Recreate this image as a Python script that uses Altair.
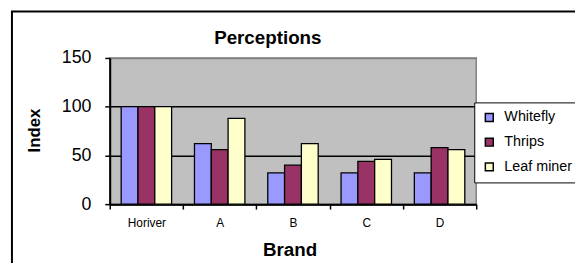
import altair as alt
import pandas as pd

chart_title = "Perceptions"
brands = ["Horiver", "A", "B", "C", "D"]
series = ["Whitefly", "Thrips", "Leaf miner"]
whitefly = [100, 62, 32, 32, 32]
thrips = [100, 56, 40, 44, 58]
leaf_miner = [100, 88, 62, 46, 56]
colors = ["#9999FF", "#993366", "#FFFFCC"]

rows = []
for s, vals in zip(series, [whitefly, thrips, leaf_miner]):
    for b, v in zip(brands, vals):
        rows.append({"Brand": b, "Series": s, "Index": v})
df = pd.DataFrame(rows)

FONT = "Liberation Sans"

bars = alt.Chart(df).mark_bar(stroke="black", strokeWidth=1.3).encode(
    x=alt.X("Brand:N", sort=brands,
            scale=alt.Scale(paddingInner=0, paddingOuter=0),
            axis=alt.Axis(title="Brand", labelAngle=0, tickBand="extent",
                          tickSize=5, tickColor="black", tickWidth=1.5,
                          domainColor="black", domainWidth=2,
                          labelFontSize=12, labelFont=FONT, labelColor="black",
                          labelPadding=9,
                          titleFont=FONT, titleFontSize=19, titleFontWeight="bold",
                          titleColor="black", titleX=182, titleY=52,
                          titleBaseline="alphabetic", titleAlign="center")),
    xOffset=alt.XOffset("Series:N", sort=series,
                        scale=alt.Scale(paddingInner=0, paddingOuter=0.68)),
    y=alt.Y("Index:Q", scale=alt.Scale(domain=[0, 150], nice=False),
            axis=alt.Axis(title="Index", values=[0, 50, 100, 150], grid=True,
                          gridColor={"condition": {"test": "datum.value == 150", "value": "#808080"}, "value": "black"},
                          gridWidth=1.5, tickSize=5, tickColor="black", tickWidth=1.5,
                          domainColor="black", domainWidth=2,
                          labelFontSize=18, labelFont=FONT, labelColor="black",
                          labelPadding=14,
                          titleFont=FONT, titleFontSize=17, titleFontWeight="bold",
                          titleColor="black", titleAngle=270, titleX=-76, titleY=73,
                          titleAlign="center", titleBaseline="middle")),
    color=alt.Color("Series:N", sort=series,
                    scale=alt.Scale(domain=series, range=colors),
                    legend=alt.Legend(title=None, orient="none", legendX=369, legendY=45,
                                      strokeColor="black", fillColor="white", padding=8,
                                      symbolType="square", symbolSize=64,
                                      symbolStrokeColor="black", symbolStrokeWidth=1.5,
                                      labelFontSize=14.5, labelFont=FONT, labelColor="black",
                                      labelOffset=8, rowPadding=9)),
)

title_text = alt.Chart(alt.Data(values=[{"t": chart_title}])).mark_text(
    font=FONT, fontSize=19, fontWeight="bold", color="black",
    align="center", baseline="alphabetic"
).encode(x=alt.value(160), y=alt.value(-14), text="t:N")

frame_left = alt.Chart(alt.Data(values=[{}])).mark_rule(color="black", strokeWidth=2).encode(
    x=alt.value(-99), y=alt.value(-47), y2=alt.value(230))
frame_top = alt.Chart(alt.Data(values=[{}])).mark_rule(color="black", strokeWidth=2).encode(
    x=alt.value(-100), x2=alt.value(495), y=alt.value(-47))

chart = alt.layer(bars, title_text, frame_left, frame_top).properties(
    width=371, height=148,
    autosize=alt.AutoSizeParams(type="none"),
    padding={"left": 103, "top": 49, "right": 100, "bottom": 58},
).configure_view(fill="#C0C0C0", stroke="#808080", strokeWidth=1.5)

chart.save("out.html", embed_options={"renderer": "svg", "actions": False})
